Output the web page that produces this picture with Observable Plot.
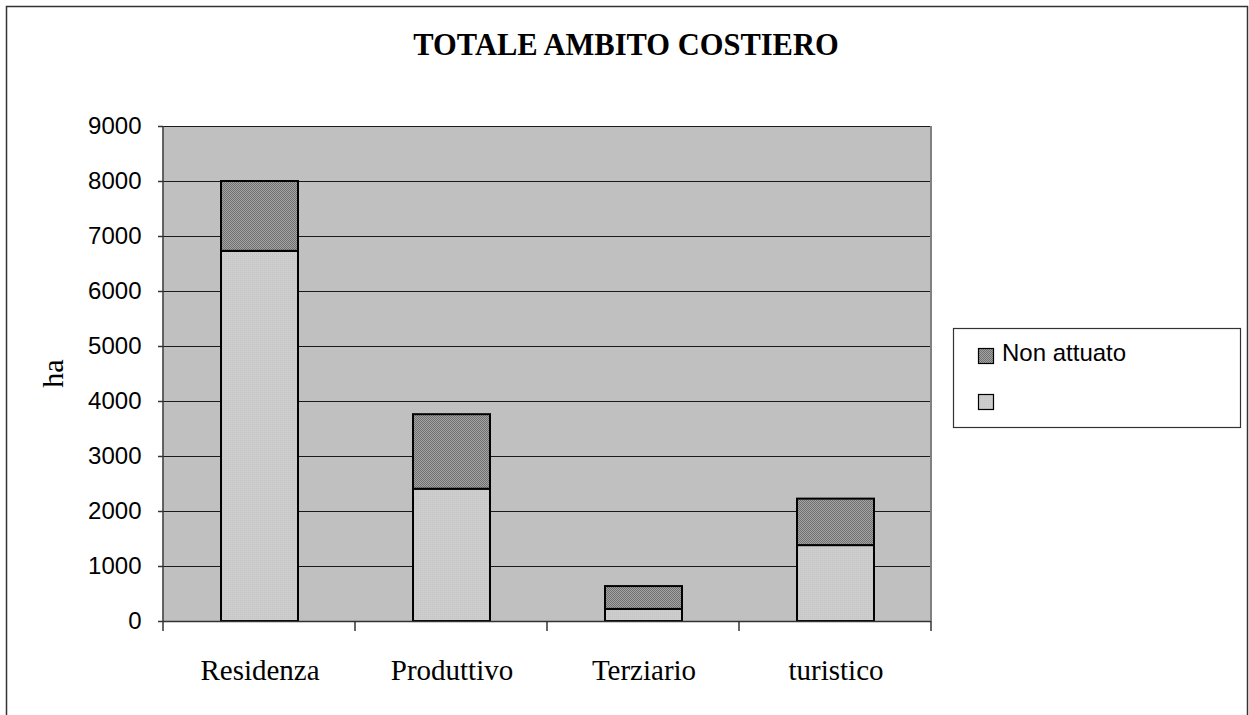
<!DOCTYPE html>
<html>
<head>
<meta charset="utf-8">
<script src="https://cdn.jsdelivr.net/npm/d3@7"></script>
<script src="https://cdn.jsdelivr.net/npm/@observablehq/plot@0.6"></script>
<style>
  html, body { margin: 0; padding: 0; background: #fff; }
  #chart { width: 1249px; height: 715px; overflow: hidden; }
</style>
</head>
<body>
<div id="chart"></div>
<script>
const title = "TOTALE AMBITO COSTIERO";
const yLabel = "ha";
const categories = ["Residenza", "Produttivo", "Terziario", "turistico"];
const seriesNames = ["", "Non attuato"];
const attuato = [6730, 2405, 220, 1380];
const nonAttuato = [1270, 1355, 415, 845];
const yTicks = [0, 1000, 2000, 3000, 4000, 5000, 6000, 7000, 8000, 9000];

const rows = [];
categories.forEach((c, i) => rows.push({cat: c, series: seriesNames[0], value: attuato[i]}));
categories.forEach((c, i) => rows.push({cat: c, series: seriesNames[1], value: nonAttuato[i]}));

const W = 1249, H = 715;
const plot = Plot.plot({
  width: W,
  height: H,
  marginLeft: 163,
  marginRight: 318,
  marginTop: 126,
  marginBottom: 94,
  style: {background: "transparent", fontFamily: "Liberation Sans, Arial, sans-serif", color: "#000", overflow: "visible"},
  x: {domain: categories, paddingInner: 0.6, paddingOuter: 0.3, axis: null},
  y: {domain: [0, 9000], axis: null},
  color: {domain: seriesNames, range: ["url(#pLight)", "url(#pDark)"]},
  marks: [
    Plot.frame({fill: "#c0c0c0", stroke: null}),
    Plot.ruleY(yTicks.filter(d => d > 0), {stroke: "#1a1a1a", strokeWidth: 1.2}),
    Plot.barY(rows, {x: "cat", y: "value", fill: "series", stroke: "#000", strokeWidth: 2, order: null}),
    Plot.ruleY([0], {stroke: "#333", strokeWidth: 1.5}),
    Plot.axisY({ticks: yTicks, tickSize: 5, tickPadding: 17, fontSize: 24, label: null, stroke: "#333", strokeWidth: 1.5, tickFormat: d => String(d)}),
    Plot.axisX({tickSize: 0, tickPadding: 38, fontSize: 29, fontFamily: "Liberation Serif, Times New Roman, serif", label: null})
  ]
});

document.getElementById("chart").appendChild(plot);

const svg = d3.select(plot);
const defs = svg.insert("defs", ":first-child");
const pd = defs.append("pattern").attr("id", "pDark").attr("width", 2).attr("height", 2).attr("patternUnits", "userSpaceOnUse");
pd.append("rect").attr("width", 2).attr("height", 2).attr("fill", "#a4a4a4");
pd.append("rect").attr("width", 1).attr("height", 1).attr("fill", "#707070");
pd.append("rect").attr("x", 1).attr("y", 1).attr("width", 1).attr("height", 1).attr("fill", "#707070");
const pl = defs.append("pattern").attr("id", "pLight").attr("width", 2).attr("height", 2).attr("patternUnits", "userSpaceOnUse");
pl.append("rect").attr("width", 2).attr("height", 2).attr("fill", "#cdcdcd");
pl.append("rect").attr("width", 1).attr("height", 1).attr("fill", "#c4c4c4");

const xs = plot.scale("x");
const ys = plot.scale("y");
const [x0, x1] = xs.range;
const step = (x1 - x0) / categories.length;
const yBottom = ys.apply(0), yTop = ys.apply(9000);

const deco = svg.append("g");
// outer frame
deco.append("rect").attr("x", 6.5).attr("y", 6.5).attr("width", W - 8).attr("height", H + 20)
  .attr("fill", "none").attr("stroke", "#333").attr("stroke-width", 1.5);
// left axis line & right border
deco.append("line").attr("x1", x0).attr("x2", x0).attr("y1", yTop).attr("y2", yBottom).attr("stroke", "#333").attr("stroke-width", 1.5);
deco.append("line").attr("x1", x1).attr("x2", x1).attr("y1", yTop).attr("y2", yBottom).attr("stroke", "#808080").attr("stroke-width", 2);
// category boundary ticks
for (let i = 0; i <= categories.length; i++) {
  const x = x0 + i * step;
  deco.append("line").attr("x1", x).attr("x2", x).attr("y1", yBottom).attr("y2", yBottom + 10).attr("stroke", "#333").attr("stroke-width", 1.5);
}
// title
deco.append("text").attr("x", 626).attr("y", 55).attr("text-anchor", "middle")
  .attr("font-family", "Liberation Serif, Times New Roman, serif").attr("font-weight", "bold").attr("font-size", 30.5)
  .attr("fill", "#000").text(title);
// y label
deco.append("text").attr("transform", `translate(63,${(yTop + yBottom) / 2}) rotate(-90)`).attr("text-anchor", "middle")
  .attr("font-family", "Liberation Serif, Times New Roman, serif").attr("font-size", 30).attr("fill", "#000").text(yLabel);
// legend
const lg = deco.append("g");
lg.append("rect").attr("x", 953.5).attr("y", 328.5).attr("width", 287).attr("height", 99)
  .attr("fill", "#fff").attr("stroke", "#333").attr("stroke-width", 1.2);
const legendItems = [seriesNames[1], seriesNames[0]];
legendItems.forEach((name, i) => {
  const yy = 348 + i * 46;
  lg.append("rect").attr("x", 978.5).attr("y", yy + 0.5).attr("width", 15).attr("height", 15)
    .attr("fill", plot.scale("color").apply(name)).attr("stroke", "#000").attr("stroke-width", 1.2);
  lg.append("text").attr("x", 1002).attr("y", yy + 13).attr("text-anchor", "start")
    .attr("font-family", "Liberation Sans, Arial, sans-serif")
    .attr("font-size", 24).attr("fill", "#000").text(name);
});
</script>
</body>
</html>
